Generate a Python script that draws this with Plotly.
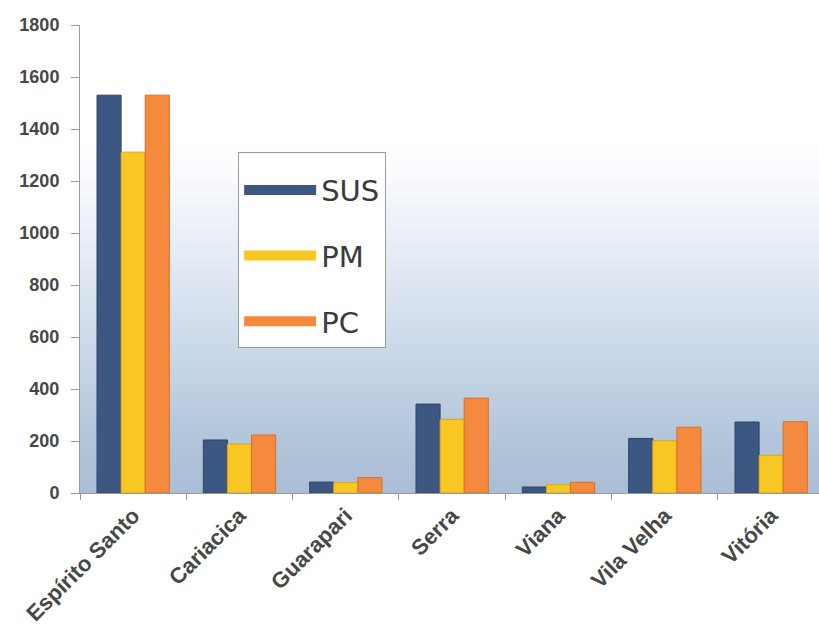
import plotly.graph_objects as go

categories = ["Espírito Santo", "Cariacica", "Guarapari", "Serra", "Viana", "Vila Velha", "Vitória"]
sus = [1530, 204, 42, 342, 23, 210, 273]
pm = [1311, 188, 40, 283, 32, 201, 145]
pc = [1530, 223, 59, 365, 41, 253, 274]
series_names = ["SUS", "PM", "PC"]
series_values = [sus, pm, pc]
colors = ["#3c5782", "#f8c724", "#f58a3e"]
edge_colors = ["#2e4468", "#d9a810", "#d96e25"]
y_ticks = [0, 200, 400, 600, 800, 1000, 1200, 1400, 1600, 1800]

fig = go.Figure()
for name, vals, c, ec in zip(series_names, series_values, colors, edge_colors):
    fig.add_trace(go.Bar(x=categories, y=vals, name=name, marker_color=c,
                         marker_line=dict(color=ec, width=1), showlegend=False,
                         legendgroup=name))
# legend entries with wide symbols
for name, c in zip(series_names, colors):
    fig.add_trace(go.Scatter(x=[None], y=[None], mode="lines", name=name,
                             line=dict(color=c, width=18), legendgroup=name,
                             showlegend=True))

# vertical background gradient (style only)
stops = [(0.0, (170, 189, 213)), (0.113, (178, 197, 218)), (0.284, (200, 214, 231)),
         (0.519, (230, 237, 246)), (0.69, (250, 251, 254)), (0.76, (255, 255, 255)),
         (1.0, (255, 255, 255))]
def col_at(p):
    for (p0, c0), (p1, c1) in zip(stops[:-1], stops[1:]):
        if p0 <= p <= p1:
            t = (p - p0) / (p1 - p0)
            return "rgb(%d,%d,%d)" % tuple(round(a + (b - a) * t) for a, b in zip(c0, c1))
    return "white"
n = 60
shapes = []
for i in range(n):
    y0 = i / n
    y1 = (i + 1) / n
    shapes.append(dict(type="rect", xref="paper", yref="paper", x0=0, x1=1, y0=y0, y1=y1 + 0.002,
                       fillcolor=col_at((y0 + y1) / 2), line=dict(width=0), layer="below"))

fig.update_layout(
    width=819, height=633,
    margin=dict(l=80, r=0, t=25, b=140),
    paper_bgcolor="white", plot_bgcolor="white",
    barmode="group", bargap=0.32, bargroupgap=0,
    shapes=shapes,
    legend=dict(x=0.214, y=0.729, xanchor="left", yanchor="top",
                bgcolor="white", bordercolor="#9a9a9a", borderwidth=1,
                font=dict(family="DejaVu Sans", size=29, color="#3a3a3a"),
                title=dict(text=" ", font=dict(size=9)),
                itemwidth=72, entrywidth=80, tracegroupgap=25, traceorder="grouped"),
    xaxis=dict(range=[-0.5, 6.45], showline=True, linecolor="#9a9a9a", linewidth=1, ticks="outside",
               tickson="boundaries", ticklen=6, tickcolor="#9a9a9a", tickangle=-45,
               tickfont=dict(family="Liberation Sans", size=22, color="#474747", weight="bold"),
               showgrid=False),
    yaxis=dict(range=[0, 1800], tickvals=y_ticks, showline=True, linecolor="#9a9a9a",
               linewidth=1, ticks="outside", ticklen=8, tickcolor="#9a9a9a",
               ticklabelstandoff=8,
               tickfont=dict(family="Liberation Sans", size=18, color="#474747", weight="bold"),
               showgrid=False, zeroline=False),
)
fig.write_html("out.html", post_script="document.body.style.margin='0';",
               config={"displayModeBar": False})
